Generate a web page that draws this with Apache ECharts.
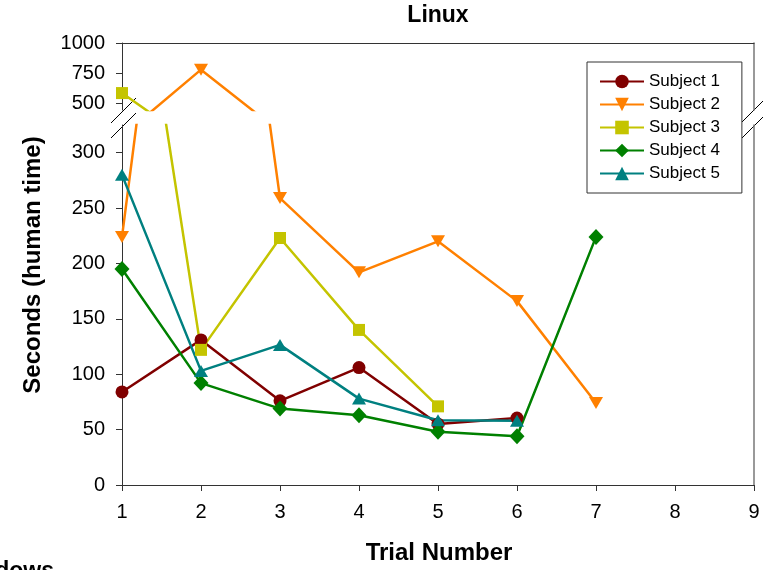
<!DOCTYPE html>
<html><head><meta charset="utf-8">
<script src="https://cdn.jsdelivr.net/npm/echarts@6/dist/echarts.min.js"></script>
<style>html,body{margin:0;padding:0;background:#fff}#c{width:763px;height:570px}</style>
</head><body><div id="c"></div>
<script>
// ---- data ----
const trials = [1, 2, 3, 4, 5, 6, 7];
const seriesNames = ['Subject 1', 'Subject 2', 'Subject 3', 'Subject 4', 'Subject 5'];
const subject1 = [84, 131, 76, 106, 55, 60.5];
const subject2 = [224, 778, 259, 192, 220, 166, 74];
const subject3 = [583, 122, 223, 140, 71];
const subject4 = [195, 92, 69, 63, 48, 44, 224];
const subject5 = [280, 103, 126.5, 78, 58.5, 58];
const lowerTicks = [0, 50, 100, 150, 200, 250, 300];
const upperTicks = [500, 750, 1000];
const xTicks = [1, 2, 3, 4, 5, 6, 7, 8, 9];
const titleText = 'Linux';
const xName = 'Trial Number';
const yName = 'Seconds (human time)';
const partialTitle = 'Windows';

// ---- styles ----
const FONT = 'Liberation Sans, Arial, sans-serif';
const styles = [
  {color: '#800000', symbol: 'circle', size: 13, rotate: 0},
  {color: '#FF8000', symbol: 'triangle', size: [14, 12], rotate: 180},
  {color: '#C4C400', symbol: 'rect', size: 12, rotate: 0},
  {color: '#008000', symbol: 'diamond', size: [15, 16], rotate: 0},
  {color: '#008080', symbol: 'triangle', size: [14, 12], rotate: 0}
];
const allData = [subject1, subject2, subject3, subject4, subject5];

const series = [];
[0, 1].forEach(function (g) {
  allData.forEach(function (vals, i) {
    const st = styles[i];
    series.push({
      name: seriesNames[i],
      type: 'line',
      xAxisIndex: g,
      yAxisIndex: g,
      data: vals.map(function (v, k) { return [trials[k], v]; }),
      symbol: st.symbol,
      symbolSize: st.size,
      symbolRotate: st.rotate,
      symbolKeepAspect: true,
      showAllSymbol: true,
      clip: true,
      itemStyle: {color: st.color},
      lineStyle: {color: st.color, width: 2.5},
      emphasis: {disabled: true}
    });
  });
});

const plain = function (v) { return String(v); };
const axisLineStyle = {color: '#333', width: 1};
const chart = echarts.init(document.getElementById('c'), null, {renderer: 'canvas'});
chart.setOption({
  animation: false,
  backgroundColor: '#fff',
  grid: [
    {left: 122, right: 9, top: 43, height: 67},
    {left: 122, right: 9, top: 125, bottom: 85}
  ],
  xAxis: [
    {gridIndex: 0, type: 'value', position: 'top', min: 1, max: 9,
     axisLine: {show: true, onZero: false, lineStyle: axisLineStyle},
     axisTick: {show: false}, axisLabel: {show: false}, splitLine: {show: false}},
    {gridIndex: 1, type: 'value', position: 'bottom', min: 1, max: 9, interval: 1,
     axisLine: {show: true, onZero: false, lineStyle: axisLineStyle},
     axisTick: {show: true, inside: false, length: 6, lineStyle: axisLineStyle, customValues: xTicks},
     axisLabel: {show: true, fontSize: 20, fontFamily: FONT, color: '#000', margin: 17, customValues: xTicks, formatter: plain},
     splitLine: {show: false}}
  ],
  yAxis: [
    {gridIndex: 0, type: 'value', min: 442, max: 1000, position: 'left',
     axisLine: {show: true, onZero: false, lineStyle: axisLineStyle},
     axisTick: {show: true, length: 6, lineStyle: axisLineStyle, customValues: upperTicks},
     axisLabel: {show: true, fontSize: 20, fontFamily: FONT, color: '#000', margin: 17, customValues: upperTicks, formatter: plain},
     splitLine: {show: false}},
    {gridIndex: 1, type: 'value', min: 0, max: 325, position: 'left',
     axisLine: {show: true, onZero: false, lineStyle: axisLineStyle},
     axisTick: {show: true, length: 6, lineStyle: axisLineStyle, customValues: lowerTicks},
     axisLabel: {show: true, fontSize: 20, fontFamily: FONT, color: '#000', margin: 17, customValues: lowerTicks, formatter: plain},
     splitLine: {show: false}},
    {gridIndex: 0, type: 'value', min: 442, max: 1000, position: 'right',
     axisLine: {show: true, onZero: false, lineStyle: {color: '#777', width: 1.5}},
     axisTick: {show: false}, axisLabel: {show: false}, splitLine: {show: false}},
    {gridIndex: 1, type: 'value', min: 0, max: 325, position: 'right',
     axisLine: {show: true, onZero: false, lineStyle: {color: '#777', width: 1.5}},
     axisTick: {show: false}, axisLabel: {show: false}, splitLine: {show: false}}
  ],
  legend: {
    data: seriesNames,
    orient: 'vertical',
    left: 587, top: 62,
    padding: [11, 22, 11, 12],
    itemGap: 6,
    itemWidth: 44,
    itemHeight: 17,
    backgroundColor: '#fff',
    borderColor: '#333',
    borderWidth: 1,
    borderRadius: 0,
    textStyle: {fontSize: 17, fontFamily: FONT, color: '#000'},
    selectedMode: false
  },
  graphic: [
    {type: 'text', x: 438, y: 16, style: {text: titleText, fontSize: 23, fontWeight: 'bold', fontFamily: FONT, fill: '#000', align: 'center', verticalAlign: 'middle'}},
    {type: 'text', x: 439, y: 553, style: {text: xName, fontSize: 24, fontWeight: 'bold', fontFamily: FONT, fill: '#000', align: 'center', verticalAlign: 'middle'}},
    {type: 'text', x: 33, y: 265, rotation: Math.PI / 2, style: {text: yName, fontSize: 24, fontWeight: 'bold', fontFamily: FONT, fill: '#000', align: 'center', verticalAlign: 'middle'}},
    {type: 'text', x: 54, y: 572, style: {text: partialTitle, fontSize: 23, fontWeight: 'bold', fontFamily: FONT, fill: '#000', align: 'right', verticalAlign: 'middle'}},
    {type: 'line', shape: {x1: 111, y1: 123, x2: 136, y2: 98}, style: {stroke: '#000', lineWidth: 1}},
    {type: 'line', shape: {x1: 111, y1: 138, x2: 136, y2: 113}, style: {stroke: '#000', lineWidth: 1}},
    {type: 'line', shape: {x1: 742, y1: 122, x2: 763, y2: 101}, style: {stroke: '#000', lineWidth: 1}},
    {type: 'line', shape: {x1: 742, y1: 138, x2: 763, y2: 117}, style: {stroke: '#000', lineWidth: 1}}
  ],
  series: series
});
</script>
</body></html>
